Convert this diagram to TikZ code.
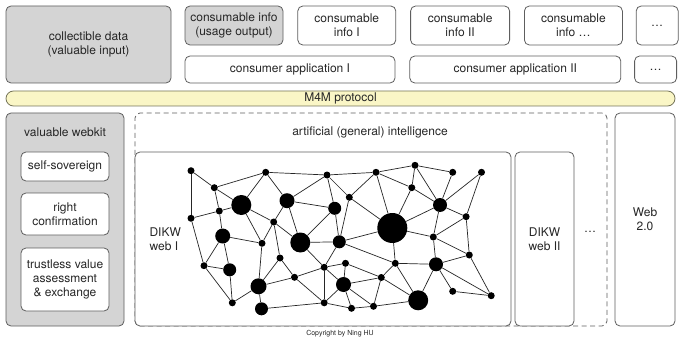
\documentclass[tikz,border=0pt]{standalone}
\usepackage{fontspec}
\setmainfont{TeX Gyre Heros}
\usepackage{xcolor}
\usepackage{tikz}
\usetikzlibrary{positioning}
\definecolor{edgegrey}{HTML}{5E5E5E}
\definecolor{panelgrey}{HTML}{D4D4D4}
\definecolor{protoyellow}{HTML}{FAF6C6}
\definecolor{protoline}{HTML}{77765A}

\begin{document}
\begin{tikzpicture}[
  x=1pt, y=-1pt,
  every node/.style={font=\fontsize{12}{14}\selectfont, text=black!85},
  box/.style={draw=edgegrey, line width=0.8pt, rounded corners=5pt, fill=white, align=center, inner sep=0pt},
  greybox/.style={box, fill=panelgrey},
  dot/.style={circle, fill=black, inner sep=0pt, minimum size=#1pt},
  link/.style={line width=0.7pt, black!85}
]
\useasboundingbox (0,0) rectangle (680,342);

% consumers on top
\node[greybox, minimum width=165pt, minimum height=77pt] (collect) at (88.5,44.5) {collectible data\\(valuable input)};
\node[greybox, minimum width=98pt, minimum height=39pt] (usage) at (234,25.5) {consumable info\\(usage output)};
\node[box, minimum width=98pt, minimum height=39pt, right=14pt of usage] (infoI) {consumable\\info I};
\node[box, minimum width=99pt, minimum height=39pt, right=14pt of infoI] (infoII) {consumable\\info II};
\node[box, minimum width=98pt, minimum height=39pt, right=14pt of infoII] (infomore) {consumable\\info \dots};
\node[box, minimum width=42pt, minimum height=39pt, right=13pt of infomore] (infodots) {\dots};
\node[box, minimum width=210pt, minimum height=27pt] (appI) at (290,69.5) {consumer application I};
\node[box, minimum width=211pt, minimum height=27pt, right=14pt of appI] (appII) {consumer application II};
\node[box, minimum width=42pt, minimum height=27pt, right=13pt of appII] (appdots) {\dots};

% protocol
\node[draw=protoline, line width=0.8pt, fill=protoyellow, rounded corners=7.5pt, minimum width=669pt, minimum height=15pt, inner sep=0pt] (m4m) at (340.5,98.5) {M4M protocol};

% webkit
\node[greybox, minimum width=118pt, minimum height=213pt] (webkit) at (65,219.5) {};
\node (webkitlbl) at (65,132) {valuable webkit};
\node[box, minimum width=88pt, minimum height=29pt] (sovereign) at (65,166.5) {self-sovereign};
\node[box, minimum width=88pt, minimum height=42pt] (confirm) at (65,214) {right\\confirmation};
\node[box, minimum width=88pt, minimum height=63pt] (trustless) at (65,279.5) {trustless value\\assessment\\\& exchange};

% intelligence
\node[box, dash pattern=on 5pt off 3.5pt, minimum width=472pt, minimum height=213pt] (agi) at (371,219.5) {};
\node (agilbl) at (370,132) {artificial (general) intelligence};
\node[box, minimum width=376pt, minimum height=174pt] (webI) at (323,239) {};
\node[align=left, anchor=west] (webIlbl) at (146,239) {DIKW\\web I};
\node[box, minimum width=59pt, minimum height=174pt] (webII) at (544.5,239) {DIKW\\web II};
\node (webdots) at (590,232) {\dots};
\node[box, minimum width=60pt, minimum height=213pt] (webtwo) at (645,219.5) {Web\\2.0};

\node[font=\fontsize{7}{8}\selectfont] (copy) at (340,334) {Copyright by Ning HU};

% the DIKW network
\foreach \n/\x/\y/\d in {
  n1/191/170.7/7, n2/214.3/187.7/7, n3/265.7/172.3/7, n4/241.3/205/20,
  n5/219.3/211/7, n6/191/218.3/7, n7/287/200.7/15, n8/273.7/222/7,
  n9/222.7/236/15, n10/262/243.3/7, n11/300.3/242.5/20, n12/327/175/7,
  n13/334.7/208.3/13, n14/349.3/197.3/7, n15/339.3/241.8/13, n16/376/172.3/7,
  n17/280/258/7, n18/204/265.7/7, n19/229.7/269.8/13, n20/258.5/286.3/16,
  n21/294.5/277.3/7, n22/324.2/267.3/7, n23/345.5/263.3/7, n24/343.5/284.5/15,
  n25/232.3/302.8/7, n26/261.5/308.8/13, n27/324.2/302.8/7, n28/351.5/308.3/7,
  n29/373.5/306.3/7, n30/415/165.3/7, n31/452.7/172.3/7, n32/481.5/172.3/7,
  n33/411.8/187.7/7, n34/440/205/14, n35/392.3/228/30, n36/466.1/216.7/7,
  n37/433.3/237/7, n38/469.3/255/7, n39/395.3/263.3/7, n40/436/264.3/14,
  n41/381.3/277.5/7, n42/452.7/291.3/7, n43/491.2/295.7/7, n44/418.2/300.3/20}
  \node[dot=\d] (\n) at (\x,\y) {};

\foreach \a/\b in {
  n1/n2, n1/n6, n2/n3, n2/n4, n2/n5, n6/n5, n5/n4, n5/n9, n6/n18,
  n3/n4, n3/n7, n3/n12, n4/n8, n4/n10, n8/n10, n7/n8, n7/n12, n7/n11,
  n7/n13, n8/n17, n8/n11, n12/n16, n12/n13, n12/n14, n14/n16, n14/n35,
  n13/n15, n13/n11, n14/n15, n15/n35, n11/n15, n9/n18, n9/n19, n9/n10,
  n10/n20, n18/n19, n18/n25, n19/n25, n17/n20, n17/n21, n20/n21,
  n20/n25, n20/n26, n21/n22, n21/n27, n22/n11, n22/n15, n22/n27,
  n22/n23, n22/n24, n23/n24, n24/n27, n24/n28, n24/n41, n23/n41,
  n15/n39, n26/n27, n27/n28, n28/n29, n24/n29, n29/n41, n29/n44,
  n16/n30, n16/n33, n16/n35, n30/n33, n30/n34, n30/n31, n31/n34,
  n32/n34, n32/n36, n33/n34, n33/n35, n34/n35, n34/n36, n34/n37,
  n35/n37, n36/n37, n36/n38, n37/n38, n35/n39, n39/n40, n40/n38,
  n40/n37, n40/n42, n40/n43, n38/n43, n42/n43, n40/n44, n39/n44,
  n41/n39, n41/n44}
  \draw[link] (\a) -- (\b);
\end{tikzpicture}
\end{document}
